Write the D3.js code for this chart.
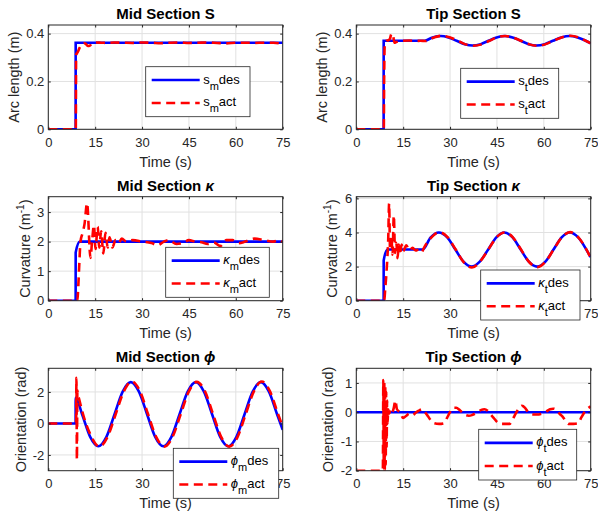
<!DOCTYPE html>
<html><head><meta charset="utf-8">
<script src="https://cdn.jsdelivr.net/npm/d3@7"></script>
<style>
body{margin:0;background:#fff;}
svg text{font-family:"Liberation Sans",Arial,Helvetica,sans-serif;}
</style></head><body>
<svg id="c" width="598" height="516"></svg>
<script>
// ---------- DATA ----------
const xTicks = [0, 15, 30, 45, 60, 75];
const xTickLabels = ["0", "15", "30", "45", "60", "75"];

// Mid section arc length
const midS_tDes = [0, 8.75, 8.76, 75];
const midS_vDes = [0, 0, 0.362, 0.362];
const midS_tAct = [0, 8.8, 8.9, 9.5, 10, 10.5, 11, 11.5, 12, 12.5, 13, 13.5, 14, 15, 17, 19, 21, 24, 27, 30, 33, 36, 39, 42, 45, 48, 51, 54, 57, 60, 63, 66, 69, 72, 75];
const midS_vAct = [0, 0, 0.31, 0.325, 0.34, 0.35, 0.358, 0.36, 0.357, 0.35, 0.348, 0.352, 0.36, 0.363, 0.362, 0.361, 0.363, 0.362, 0.361, 0.363, 0.362, 0.360, 0.362, 0.363, 0.361, 0.362, 0.363, 0.361, 0.359, 0.362, 0.362, 0.361, 0.362, 0.362, 0.357];
const midS_yTicks = [0, 0.2, 0.4];
const midS_yTickLabels = ["0", "0.2", "0.4"];

// Tip section arc length
const tipS_tDes = [0, 8.75, 8.76, 21.8, 24.4, 27.0, 29.5, 32.1, 34.7, 37.2, 39.8, 42.3, 44.9, 47.4, 50.0, 52.6, 55.1, 57.7, 60.3, 62.9, 65.6, 68.2, 70.8, 73.4, 75];
const tipS_vDes = [0, 0, 0.37, 0.37, 0.384, 0.39, 0.384, 0.37, 0.356, 0.35, 0.356, 0.37, 0.384, 0.39, 0.384, 0.37, 0.356, 0.35, 0.356, 0.37, 0.384, 0.39, 0.384, 0.37, 0.359];
const tipS_tAct = [0, 8.8, 8.9, 9.1, 9.6, 10.3, 10.8, 11.2, 11.5, 11.8, 12.2, 12.8, 13.5, 15, 17, 19, 20.5, 22.1, 24.7, 27.3, 29.8, 32.4, 35.0, 37.5, 40.1, 42.6, 45.2, 47.7, 50.3, 52.9, 55.4, 58.0, 60.6, 63.2, 65.9, 68.5, 71.1, 73.7, 75];
const tipS_vAct = [0, 0, 0.2, 0.35, 0.37, 0.372, 0.38, 0.398, 0.40, 0.39, 0.362, 0.365, 0.368, 0.37, 0.371, 0.369, 0.37, 0.369, 0.383, 0.391, 0.385, 0.371, 0.355, 0.349, 0.355, 0.37, 0.385, 0.39, 0.383, 0.369, 0.355, 0.349, 0.356, 0.371, 0.385, 0.391, 0.384, 0.368, 0.36];
const tipS_yTicks = [0, 0.2, 0.4];
const tipS_yTickLabels = ["0", "0.2", "0.4"];

// Mid section curvature
const midK_tDes = [0, 8.75, 8.76, 10.1, 75];
const midK_vDes = [0, 0, 1.63, 2.0, 2.0];
const midK_tAct = [0, 9.3, 9.6, 9.9, 10.3, 11.0, 11.6, 12.4, 13.5, 14.0, 14.6, 15.1, 15.8, 16.3, 16.9, 17.6, 18.3, 19.0, 19.6, 20.5, 21.5, 22.5, 23.5, 25, 27, 30, 33, 35, 37, 38.5, 41, 43, 45, 47, 49, 51, 53, 55, 57, 59, 61, 63, 66, 69, 72, 74, 75];
const midK_vAct = [0, 0, 0.5, 1.2, 2.0, 2.3, 2.6, 3.3, 1.45, 2.0, 2.55, 1.75, 2.5, 1.8, 2.35, 1.6, 2.3, 1.8, 2.15, 1.8, 2.05, 1.95, 2.1, 2.0, 2.05, 2.0, 1.95, 1.88, 2.0, 2.05, 1.92, 1.95, 2.05, 2.0, 1.98, 1.92, 1.97, 1.85, 2.05, 2.05, 1.95, 2.0, 2.1, 2.05, 2.0, 2.05, 1.98];
const midK_yTicks = [0, 1, 2, 3];
const midK_yTickLabels = ["0", "1", "2", "3"];

// Tip section curvature
const tipK_tDes = [0, 8.75, 8.76, 10.0, 21.2, 23.8, 26.4, 29.1, 31.7, 34.3, 36.9, 39.5, 42.2, 44.8, 47.4, 50.0, 52.6, 55.2, 57.9, 60.5, 63.1, 65.7, 68.3, 71.0, 73.6, 75];
const tipK_vDes = [0, 0, 2.36, 3.0, 3.0, 3.71, 4.0, 3.71, 3.0, 2.29, 2.0, 2.29, 3.0, 3.71, 4.0, 3.71, 3.0, 2.29, 2.0, 2.29, 3.0, 3.71, 4.0, 3.71, 3.0, 2.55];
const tipK_tAct = [0, 8.9, 9.3, 9.6, 9.9, 10.2, 10.5, 10.8, 11.2, 11.6, 12.0, 12.4, 12.8, 13.2, 13.6, 14.0, 14.5, 15, 16, 17, 18, 19, 20, 21, 21.5, 23.9, 26.5, 29.2, 31.8, 34.4, 37.0, 39.6, 42.3, 44.9, 47.5, 50.1, 52.7, 55.3, 58.0, 60.6, 63.2, 65.8, 68.4, 71.1, 73.7, 75];
const tipK_vAct = [0, 0, 0.8, 1.5, 2.4, 3.5, 5.7, 3.0, 3.8, 2.7, 5.0, 2.8, 3.4, 2.5, 3.3, 2.7, 3.3, 2.9, 3.25, 2.95, 3.1, 2.95, 3.0, 2.85, 3.05, 3.68, 4.02, 3.73, 3.0, 2.25, 1.95, 2.3, 3.02, 3.72, 4.0, 3.72, 3.0, 2.27, 1.97, 2.3, 3.02, 3.72, 4.02, 3.7, 2.98, 2.5];
const tipK_yTicks = [0, 2, 4, 6];
const tipK_yTickLabels = ["0", "2", "4", "6"];

// Mid section orientation
const midP_tDes = [0, 8.75, 8.76, 10.8, 13.4, 16.0, 18.6, 21.2, 23.8, 26.4, 29.0, 31.6, 34.2, 36.8, 39.4, 42.0, 44.6, 47.2, 49.8, 52.4, 55.0, 57.6, 60.2, 62.8, 65.4, 68.0, 70.6, 73.2, 75];
const midP_vDes = [0, 0, 1.63, 0.585, -0.85, -1.45, -0.85, 0.585, 2.02, 2.62, 2.02, 0.585, -0.85, -1.45, -0.85, 0.585, 2.02, 2.62, 2.02, 0.585, -0.85, -1.45, -0.85, 0.585, 2.02, 2.62, 2.02, 0.585, -0.4];
const midP_tAct = [0, 8.9, 9.0, 9.15, 9.3, 9.5, 9.8, 10.3, 11.1, 13.7, 16.3, 18.9, 21.5, 24.1, 26.7, 29.3, 31.9, 34.5, 37.1, 39.7, 42.3, 44.9, 47.5, 50.1, 52.7, 55.3, 57.9, 60.5, 63.1, 65.7, 68.3, 70.9, 73.5, 75];
const midP_vAct = [0, 0, 2.9, -2.3, 2.1, 1.8, 1.6, 1.2, 0.6, -0.8, -1.47, -0.88, 0.55, 2.0, 2.66, 2.05, 0.6, -0.85, -1.47, -0.88, 0.55, 2.0, 2.64, 2.05, 0.6, -0.85, -1.47, -0.88, 0.55, 2.0, 2.66, 2.05, 0.6, -0.2];
const midP_yTicks = [-2, 0, 2];
const midP_yTickLabels = ["-2", "0", "2"];

// Tip section orientation
const tipP_tDes = [0, 75];
const tipP_vDes = [0, 0];
const tipP_tAct = [0, 8.5, 8.65, 8.8, 8.95, 9.1, 9.25, 9.4, 9.55, 9.7, 9.85, 10.0, 10.2, 10.5, 11.0, 11.5, 12.0, 12.5, 13, 14, 15, 16, 17, 18, 19, 20, 21, 22, 23, 24, 25, 26.5, 28, 29, 30, 31, 32, 33, 34, 35, 36, 37, 38, 39, 40, 41, 42, 43, 44, 45, 46, 47.5, 49, 50, 51, 52, 53, 54, 55, 56, 57, 58, 59, 60, 61, 62, 63, 64, 65, 66, 67, 68, 69.5, 71, 72, 73, 74, 75];
const tipP_vAct = [-2, -2, 1.1, -1.9, 1.0, -2.0, 0.9, -1.8, 0.7, -1.2, 0.4, -0.4, 0.1, -0.05, 0.1, 0.0, 0.15, 0.4, 0.1, 0.0, -0.2, -0.12, -0.05, -0.1, -0.02, 0.05, 0.1, 0.0, -0.15, -0.3, -0.38, -0.4, -0.38, -0.2, 0.0, 0.15, 0.15, 0.08, -0.02, -0.1, -0.12, -0.1, -0.05, 0.02, 0.08, 0.1, 0.05, -0.08, -0.2, -0.33, -0.4, -0.4, -0.4, -0.25, -0.05, 0.12, 0.22, 0.15, 0.0, -0.06, -0.08, -0.08, -0.06, -0.02, 0.04, 0.1, 0.12, 0.08, -0.05, -0.15, -0.3, -0.4, -0.4, -0.38, -0.18, 0.0, 0.12, 0.2];
const tipP_yTicks = [-2, -1, 0, 1];
const tipP_yTickLabels = ["-2", "-1", "0", "1"];

// ---------- LAYOUT / STYLE ----------
const colL = [48.3, 356.3], colR = [282.7, 590.7];
const rowT = [25, 196.7, 368.3], rowB = [129.3, 300.7, 470.7];
const AX = "#262626", BLUE = "#0000ff", RED = "#ff0000";

const panels = [
  {id:"a", row:0, col:0, title:["Mid Section ", "S", false], yDomain:[0,0.436], yTicks:midS_yTicks, yLabels:midS_yTickLabels,
   ylab:[{t:"Arc length (m)"}], ylabOff:29, tDes:midS_tDes, vDes:midS_vDes, tAct:midS_tAct, vAct:midS_vAct,
   sym:"s", symIt:false, sub:"m", leg:[145.7,66.7,104.3,50]},
  {id:"b", row:0, col:1, title:["Tip Section ", "S", false], yDomain:[0,0.436], yTicks:tipS_yTicks, yLabels:tipS_yTickLabels,
   ylab:[{t:"Arc length (m)"}], ylabOff:29, tDes:tipS_tDes, vDes:tipS_vDes, tAct:tipS_tAct, vAct:tipS_vAct,
   sym:"s", symIt:false, sub:"t", leg:[460.7,68.3,98,50]},
  {id:"c", row:1, col:0, title:["Mid Section ", "κ", true], yDomain:[0,3.52], yTicks:midK_yTicks, yLabels:midK_yTickLabels,
   ylab:[{t:"Curvature (m"},{t:"-1",sup:true},{t:")"}], ylabOff:18.5, tDes:midK_tDes, vDes:midK_vDes, tAct:midK_tAct, vAct:midK_vAct,
   sym:"κ", symIt:true, sub:"m", leg:[165.7,247.3,103.6,50]},
  {id:"d", row:1, col:1, title:["Tip Section ", "κ", true], yDomain:[0,6.1], yTicks:tipK_yTicks, yLabels:tipK_yTickLabels,
   ylab:[{t:"Curvature (m"},{t:"-1",sup:true},{t:")"}], ylabOff:19, tDes:tipK_tDes, vDes:tipK_vDes, tAct:tipK_tAct, vAct:tipK_vAct,
   sym:"κ", symIt:true, sub:"t", leg:[480.7,270,99.3,50]},
  {id:"e", row:2, col:0, title:["Mid Section ", "ϕ", true], yDomain:[-3,3.5], yTicks:midP_yTicks, yLabels:midP_yTickLabels,
   ylab:[{t:"Orientation (rad)"}], ylabOff:22.5, tDes:midP_tDes, vDes:midP_vDes, tAct:midP_tAct, vAct:midP_vAct,
   sym:"ϕ", symIt:true, sub:"m", leg:[173.3,448.3,105.4,50]},
  {id:"f", row:2, col:1, title:["Tip Section ", "ϕ", true], yDomain:[-2,1.5], yTicks:tipP_yTicks, yLabels:tipP_yTickLabels,
   ylab:[{t:"Orientation (rad)"}], ylabOff:23.3, tDes:tipP_tDes, vDes:tipP_vDes, tAct:tipP_tAct, vAct:tipP_vAct,
   sym:"ϕ", symIt:true, sub:"t", leg:[478.7,429.3,98,50.7]}
];

const svg = d3.select("#c");
const defs = svg.append("defs");

function legendLabel(g, x, y, p, word) {
  const t = g.append("text").attr("x", x).attr("y", y).attr("font-size", 13).attr("fill", "#000");
  const s = t.append("tspan").text(p.sym);
  if (p.symIt) s.attr("font-style", "italic");
  t.append("tspan").attr("font-size", 11).attr("dy", 6).text(p.sub);
  t.append("tspan").attr("dy", -6).text(word);
}

panels.forEach(p => {
  const x0 = colL[p.col], x1 = colR[p.col], y0 = rowT[p.row], y1 = rowB[p.row];
  const x = d3.scaleLinear().domain([0, 75]).range([x0, x1]);
  const y = d3.scaleLinear().domain(p.yDomain).range([y1, y0]);
  const g = svg.append("g");
  const [lx, lyy, lw, lh] = p.leg;

  g.append("rect").attr("x", x0).attr("y", y0).attr("width", x1 - x0).attr("height", y1 - y0).attr("fill", "#fff");
  // grid
  g.selectAll(".gx").data(xTicks).join("line")
    .attr("x1", d => x(d)).attr("x2", d => x(d)).attr("y1", y0).attr("y2", y1)
    .attr("stroke", "#e1e1e1").attr("stroke-width", 1);
  g.selectAll(".gy").data(p.yTicks).join("line")
    .attr("x1", x0).attr("x2", x1).attr("y1", d => y(d)).attr("y2", d => y(d))
    .attr("stroke", "#e1e1e1").attr("stroke-width", 1);

  defs.append("clipPath").attr("id", "clip" + p.id).append("rect")
    .attr("x", x0).attr("y", y0).attr("width", x1 - x0).attr("height", y1 - y0);

  const line = d3.line().x(d => x(d[0])).y(d => y(d[1])).curve(d3.curveMonotoneX);
  g.append("path").datum(d3.zip(p.tDes, p.vDes)).attr("d", line)
    .attr("fill", "none").attr("stroke", BLUE).attr("stroke-width", 2.6)
    .attr("clip-path", `url(#clip${p.id})`);
  g.append("path").datum(d3.zip(p.tAct, p.vAct)).attr("d", line)
    .attr("fill", "none").attr("stroke", RED).attr("stroke-width", 2.6)
    .attr("stroke-dasharray", "9,5.5").attr("clip-path", `url(#clip${p.id})`);

  // axes
  const fontSet = sel => sel.selectAll("text").attr("font-size", 13).attr("fill", AX)
      .attr("font-family", '"Liberation Sans",Arial,Helvetica,sans-serif');
  const bx = g.append("g").attr("transform", `translate(0,${y1})`)
    .call(d3.axisBottom(x).tickValues(xTicks).tickFormat((d, i) => xTickLabels[i]).tickSizeInner(-2.5).tickSizeOuter(0).tickPadding(8.3));
  const tx = g.append("g").attr("transform", `translate(0,${y0})`)
    .call(d3.axisTop(x).tickValues(xTicks).tickFormat("").tickSizeInner(-2.5).tickSizeOuter(0));
  const ly = g.append("g").attr("transform", `translate(${x0},0)`)
    .call(d3.axisLeft(y).tickValues(p.yTicks).tickFormat((d, i) => p.yLabels[i]).tickSizeInner(-2.5).tickSizeOuter(0).tickPadding(4));
  const ry = g.append("g").attr("transform", `translate(${x1},0)`)
    .call(d3.axisRight(y).tickValues(p.yTicks).tickFormat("").tickSizeInner(-2.5).tickSizeOuter(0));
  [bx, tx, ly, ry].forEach(a => { a.select(".domain").remove(); a.selectAll("line").attr("stroke", AX); fontSet(a); });

  // tick labels fully hidden behind the legend box (as in the reference) are not drawn
  bx.selectAll(".tick").each(function(d) {
    const cx = x(d), top = y1 + 8, bot = y1 + 19;
    if (cx - 8 >= lx && cx + 8 <= lx + lw && top >= lyy && bot <= lyy + lh) d3.select(this).select("text").remove();
  });

  g.append("rect").attr("x", x0).attr("y", y0).attr("width", x1 - x0).attr("height", y1 - y0)
    .attr("fill", "none").attr("stroke", AX).attr("stroke-width", 1);

  // title
  const tt = g.append("text").attr("x", (x0 + x1) / 2).attr("y", y0 - 6).attr("text-anchor", "middle")
    .attr("font-size", 15).attr("font-weight", "bold").attr("fill", "#000");
  tt.append("tspan").text(p.title[0]);
  const ts = tt.append("tspan").text(p.title[1]);
  if (p.title[2]) ts.attr("font-style", "italic");

  // x label
  g.append("text").attr("x", (x0 + x1) / 2).attr("y", y1 + 37.5).attr("text-anchor", "middle")
    .attr("font-size", 14.5).attr("fill", AX).text("Time (s)");

  // y label
  const yl = g.append("text").attr("transform", `translate(${x0 - p.ylabOff},${(y0 + y1) / 2}) rotate(-90)`)
    .attr("text-anchor", "middle").attr("font-size", 14.5).attr("fill", AX);
  p.ylab.forEach((part, i) => {
    const s = yl.append("tspan").text(part.t);
    if (part.sup) s.attr("font-size", 10).attr("dy", -6);
    else if (i > 0 && p.ylab[i - 1].sup) s.attr("dy", 6);
  });

  // legend
  const lg = svg.append("g");
  lg.append("rect").attr("x", lx).attr("y", lyy).attr("width", lw).attr("height", lh)
    .attr("fill", "#fff").attr("stroke", AX).attr("stroke-width", 0.8);
  const r1 = lyy + lh * 0.267, r2 = lyy + lh * 0.725;
  lg.append("line").attr("x1", lx + 6).attr("x2", lx + 54).attr("y1", r1).attr("y2", r1)
    .attr("stroke", BLUE).attr("stroke-width", 2.6);
  lg.append("line").attr("x1", lx + 6).attr("x2", lx + 54).attr("y1", r2).attr("y2", r2)
    .attr("stroke", RED).attr("stroke-width", 2.6).attr("stroke-dasharray", "9,5.5");
  legendLabel(lg, lx + 57.5, r1 + 3.5, p, "des");
  legendLabel(lg, lx + 57.5, r2 + 3.5, p, "act");
});
</script>
</body></html>
